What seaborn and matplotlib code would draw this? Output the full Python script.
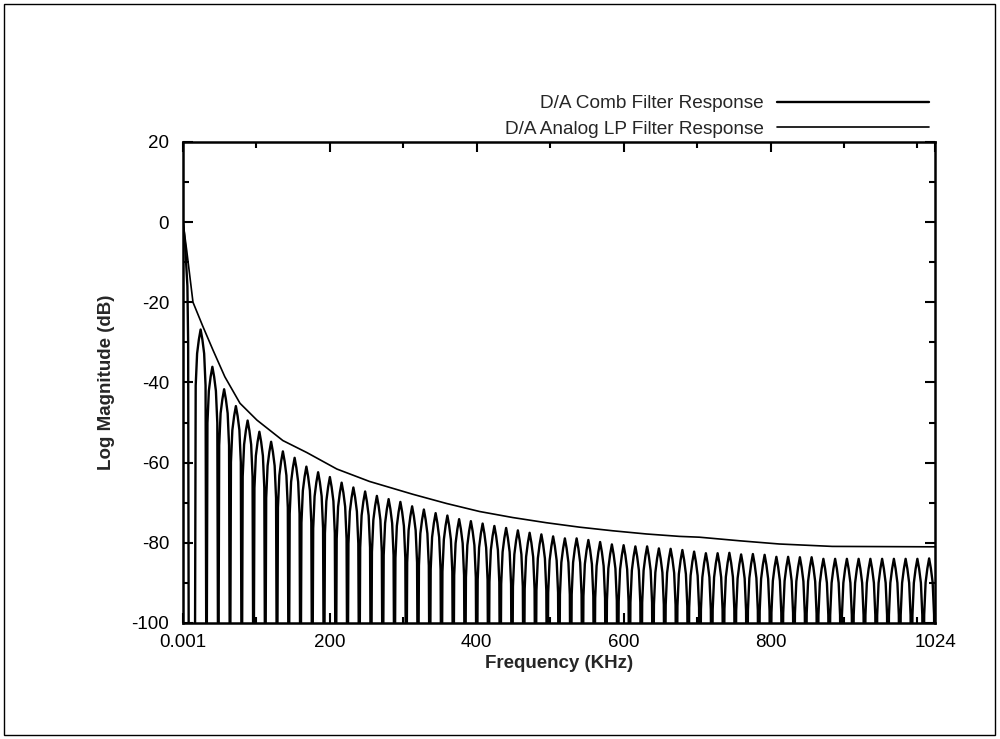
import matplotlib
matplotlib.use('Agg')
import matplotlib.pyplot as plt
import seaborn as sns
import pandas as pd
from matplotlib.patches import Rectangle

# Data
# comb filter: nulls every 16 KHz, one peak per lobe
comb_null_khz = [0, 16, 32, 48, 64, 80, 96, 112, 128, 144, 160, 176, 192, 208, 224, 240,
                 256, 272, 288, 304, 320, 336, 352, 368, 384, 400, 416, 432, 448, 464, 480,
                 496, 512, 528, 544, 560, 576, 592, 608, 624, 640, 656, 672, 688, 704, 720,
                 736, 752, 768, 784, 800, 816, 832, 848, 864, 880, 896, 912, 928, 944, 960,
                 976, 992, 1008, 1024]
comb_peak_db = [0.0, -26.8, -36.1, -41.7, -45.9, -49.5, -52.3, -54.8, -57.2, -58.8,
                -61.0, -62.4, -63.6, -65.0, -66.2, -67.2, -68.3, -69.1, -69.8, -70.9,
                -71.7, -72.6, -73.2, -74.1, -74.6, -75.2, -75.8, -76.3, -76.9, -77.5,
                -77.9, -78.4, -78.9, -78.9, -79.3, -79.8, -80.4, -80.6, -80.9, -80.9,
                -81.4, -81.5, -81.8, -82.2, -82.6, -82.6, -82.5, -82.9, -82.8, -83.0,
                -83.5, -83.5, -83.6, -83.6, -84.0, -84.0, -84.0, -84.0, -84.0, -84.0,
                -84.0, -84.0, -84.0, -83.9]
# main lobe (starts at the 0 dB tick and plunges quickly)
main_lobe_khz = [0, 3, 6, 7, 8]
main_lobe_db = [0, -6, -16, -30, -130]
# lobe profile (position within lobe, dB below that lobe's peak)
lobe_pos = [0.0, 0.08, 0.2, 0.35, 0.5, 0.65, 0.8, 0.92]
lobe_drop_db = [None, -14, -6, -2.5, 0, -2.5, -6, -14]
null_db = -130

# analog LP filter envelope
lp_khz = [0, 5, 13.6, 27, 41, 57, 77.6, 100.7, 136, 168.7, 209.5, 254, 313, 359, 404,
          449, 495, 540, 585, 631, 676, 703, 758, 812, 884, 1016, 1024]
lp_db = [0, -7, -20, -26, -32, -38.6, -45.2, -49.4, -54.5, -57.5, -61.6, -64.7, -67.9,
         -70.2, -72.2, -73.7, -75.0, -76.1, -77.0, -77.8, -78.4, -78.6, -79.5, -80.3,
         -80.9, -81.0, -81.0]

x_ticks = [0.001, 200, 400, 600, 800, 1024]
x_ticklabels = ['0.001', '200', '400', '600', '800', '1024']
y_ticks = [-100, -80, -60, -40, -20, 0, 20]

# build comb polyline
f_pts = list(main_lobe_khz)
db_pts = list(main_lobe_db)
for k in range(1, len(comb_peak_db)):
    a, b = comb_null_khz[k], comb_null_khz[k + 1]
    for t, d in zip(lobe_pos, lobe_drop_db):
        f_pts.append(a + t * (b - a))
        db_pts.append(null_db if d is None else comb_peak_db[k] + d)
f_pts.append(comb_null_khz[-1])
db_pts.append(null_db)
comb = pd.DataFrame({'f': f_pts, 'db': db_pts})
lp = pd.DataFrame({'f': lp_khz, 'db': lp_db})

sns.set_style('ticks')
plt.rcParams['font.family'] = ['Liberation Sans', 'DejaVu Sans']
plt.rcParams['axes.unicode_minus'] = False

fig = plt.figure(figsize=(10, 7.39), dpi=100)
ax = fig.add_axes([0.183, 0.157, 0.752, 0.651])

sns.lineplot(data=comb, x='f', y='db', sort=False, estimator=None, color='black',
             lw=1.7, ax=ax, label='D/A Comb Filter Response')
sns.lineplot(data=lp, x='f', y='db', sort=False, estimator=None, color='black',
             lw=1.2, ax=ax, label='D/A Analog LP Filter Response')

ax.set_xlim(0, 1024)
ax.set_ylim(-100, 20)
ax.set_xticks(x_ticks)
ax.set_xticklabels(x_ticklabels)
ax.set_xticks(range(100, 1024, 100), minor=True)
ax.set_yticks(y_ticks)
ax.set_yticks(range(-90, 20, 20), minor=True)
ax.tick_params(which='both', direction='in', top=True, right=True, width=1.5, colors='black')
ax.tick_params(which='major', length=7)
ax.tick_params(which='minor', length=4)
ax.tick_params(axis='x', labelsize=13.5, pad=8)
ax.tick_params(axis='y', labelsize=13.5, pad=10)
for s in ax.spines.values():
    s.set_linewidth(1.8)
    s.set_color('black')

ax.set_xlabel('Frequency (KHz)', fontsize=13.5, fontweight='bold', labelpad=3)
ax.set_ylabel('Log Magnitude (dB)', fontsize=13.5, fontweight='bold', labelpad=12)

ax.legend(loc='upper right', bbox_to_anchor=(0.929, 1 - 95 / 739),
          bbox_transform=fig.transFigure, frameon=False, markerfirst=False,
          handlelength=8.0, handletextpad=0.7, labelspacing=0.42,
          borderaxespad=0, borderpad=0, fontsize=13.7)

fig.patches.append(Rectangle((0.004, 0.006), 0.991, 0.989, transform=fig.transFigure,
                             fill=False, lw=1, color='black'))

fig.savefig('out.png', dpi=100)
